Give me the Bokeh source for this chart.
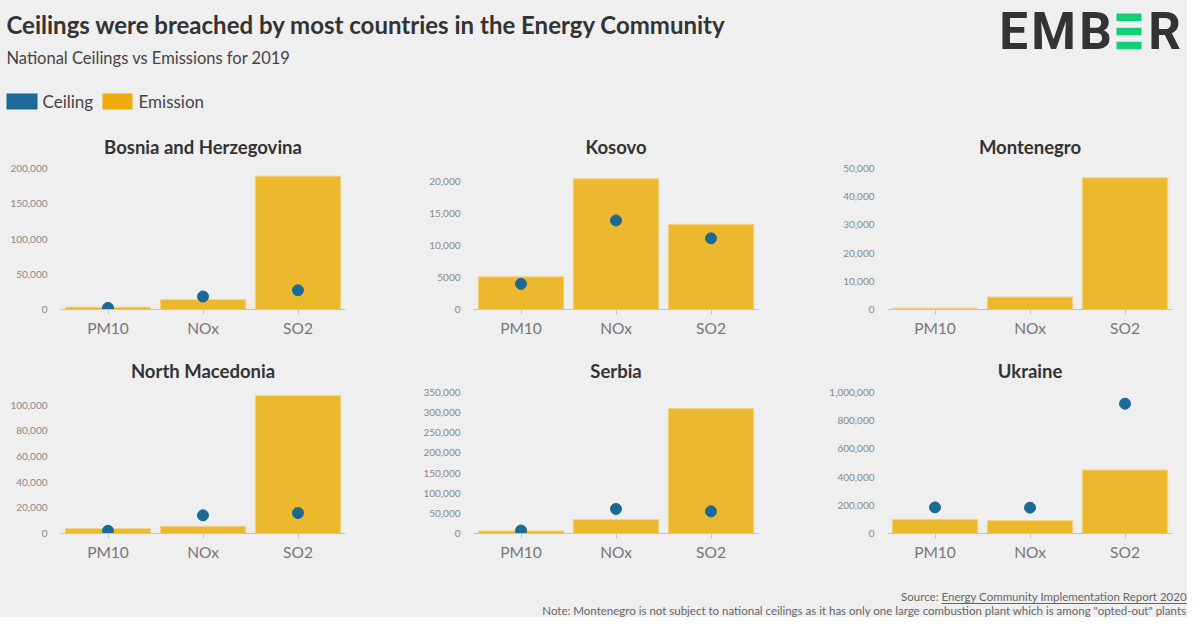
import math
from bokeh.plotting import figure
from bokeh.models import Range1d, FactorRange, FixedTicker, ColumnDataSource
from bokeh.layouts import column, row
from bokeh.embed import file_html
from bokeh.resources import INLINE
from bokeh.core.properties import value

nan = float("nan")

pollutants = ["PM10", "NOx", "SO2"]
countries = ["Bosnia and Herzegovina", "Kosovo", "Montenegro",
             "North Macedonia", "Serbia", "Ukraine"]

emission_bih = [3300, 14100, 189200]
ceiling_bih = [2300, 18400, 27300]
emission_kos = [5100, 20400, 13300]
ceiling_kos = [4000, 13900, 11100]
emission_mne = [450, 4450, 46700]
ceiling_mne = [nan, nan, nan]
emission_mkd = [3900, 5600, 107700]
ceiling_mkd = [2100, 14200, 16000]
emission_srb = [6500, 34500, 310000]
ceiling_srb = [7400, 60900, 55000]
emission_ukr = [100700, 91500, 450700]
ceiling_ukr = [185200, 183100, 920400]

emissions = [emission_bih, emission_kos, emission_mne, emission_mkd, emission_srb, emission_ukr]
ceilings = [ceiling_bih, ceiling_kos, ceiling_mne, ceiling_mkd, ceiling_srb, ceiling_ukr]

y_max = [200000, 22000, 50000, 110000, 350000, 1000000]
y_ticks = [
    [0, 50000, 100000, 150000, 200000],
    [0, 5000, 10000, 15000, 20000],
    [0, 10000, 20000, 30000, 40000, 50000],
    [0, 20000, 40000, 60000, 80000, 100000],
    [0, 50000, 100000, 150000, 200000, 250000, 300000, 350000],
    [0, 200000, 400000, 600000, 800000, 1000000],
]

title_text = "Ceilings were breached by most countries in the Energy Community"
subtitle_text = "National Ceilings vs Emissions for 2019"
legend_labels = ["Ceiling", "Emission"]
source_prefix = "Source:"
source_link = "Energy Community Implementation Report 2020"
note_text = ('Note: Montenegro is not subject to national ceilings as it has only one large '
             'combustion plant which is among "opted-out" plants')

BG = "#efefef"
BAR = "#ecb82e"
DOT = "#1d6996"
FONT = "Lato"

W = 1187
HEAD_H = 123
ROW_H = 224
FOOT_H = 46


def base(width, height, xr, yr):
    p = figure(width=width, height=height, x_range=xr, y_range=yr,
               output_backend="svg", toolbar_location=None, min_border=0)
    p.background_fill_color = BG
    p.border_fill_color = BG
    p.outline_line_color = None
    p.axis.visible = False
    p.grid.visible = False
    return p


# ---------------- header ----------------
head = base(W, HEAD_H, Range1d(0, W), Range1d(HEAD_H, 0))
head.text(x=[6], y=[24], text=[title_text], text_font=value(FONT), text_font_style="bold",
          text_font_size="24px", text_color="#333333", text_baseline="middle")
head.text(x=[6], y=[57], text=[subtitle_text], text_font=value(FONT),
          text_font_size="16.5px", text_color="#444444", text_baseline="middle")
head.rect(x=[21.5], y=[101], width=31, height=16, fill_color="#1d6996", line_color=None)
head.rect(x=[117], y=[101], width=30, height=16, fill_color="#eead0e", line_color=None)
head.text(x=[42, 138], y=[101, 101], text=legend_labels, text_font=value(FONT),
          text_font_size="17px", text_color="#444444", text_baseline="middle")
# EMBER logo
head.text(x=[1013, 1053, 1095, 1164], y=[31, 31, 31, 31], text=["E", "M", "B", "R"],
          text_font=value("Roboto"), text_font_style="bold", text_font_size="51px",
          text_color="#333333", text_baseline="middle", text_align="center")
head.rect(x=[1128.5, 1128.5, 1128.5], y=[16.7, 31, 45], width=25, height=7.5,
          fill_color="#13ce74", line_color=None)


# ---------------- panels ----------------
left_borders = [60, 73, 87]
fig_widths = [400, 400, 387]
FRAME_W = 285
FRAME_H = 141
TOP_B = 45


def panel(i):
    c = i % 3
    lb = left_borders[c]
    rb = fig_widths[c] - lb - FRAME_W
    p = figure(frame_width=FRAME_W, frame_height=FRAME_H,
               x_range=FactorRange(*pollutants, range_padding=0),
               y_range=Range1d(0, y_max[i]),
               output_backend="svg", toolbar_location=None,
               min_border_left=lb, min_border_right=rb,
               min_border_top=TOP_B, min_border_bottom=ROW_H - TOP_B - FRAME_H,
               title=countries[i])
    p.background_fill_color = BG
    p.border_fill_color = BG
    p.outline_line_color = None
    p.title.align = "center"
    p.title.text_font = FONT
    p.title.text_font_size = "18.5px"
    p.title.text_font_style = "bold"
    p.title.text_color = "#333333"
    p.title.standoff = 21

    src = ColumnDataSource(dict(cat=pollutants, emission=emissions[i], ceiling=ceilings[i]))
    p.vbar(x="cat", top="emission", width=0.9, source=src, fill_color=BAR,
           line_color="#f3d58a", line_width=1)
    p.scatter(x="cat", y="ceiling", source=src, size=11, fill_color=DOT, line_color=DOT)

    p.grid.visible = False
    ya = p.yaxis[0]
    ya.ticker = FixedTicker(ticks=y_ticks[i])
    ya.major_label_overrides = {t: (f"{t:,}" if t >= 10000 else str(t)) for t in y_ticks[i]}
    ya.axis_line_color = None
    ya.major_tick_line_color = None
    ya.minor_tick_line_color = None
    ya.major_label_standoff = 7
    ya.major_label_text_font = FONT
    ya.major_label_text_font_size = "10px"
    ya.major_label_text_color = "#888888"

    xa = p.xaxis[0]
    xa.axis_line_color = "#c4c4c4"
    xa.major_tick_line_color = "#c4c4c4"
    xa.major_tick_out = 5
    xa.major_tick_in = 0
    xa.major_label_standoff = 4
    xa.major_label_text_font = FONT
    xa.major_label_text_font_size = "15.5px"
    xa.major_label_text_color = "#777777"
    return p


panels = [panel(i) for i in range(6)]

# ---------------- footer ----------------
foot = base(W, FOOT_H, Range1d(0, W), Range1d(FOOT_H, 0))
foot.text(x=[938], y=[25], text=[source_prefix], text_font=value(FONT), text_font_size="11.5px",
          text_color="#666666", text_baseline="middle", text_align="right")
foot.text(x=[941], y=[25], text=[source_link], text_font=value(FONT), text_font_size="11.5px",
          text_color="#666666", text_baseline="middle", text_align="left")
foot.segment(x0=[941], y0=[32], x1=[1186], y1=[32], line_color="#666666", line_width=1)
foot.text(x=[1186], y=[39], text=[note_text], text_font=value(FONT), text_font_size="11.5px",
          text_color="#666666", text_baseline="middle", text_align="right")

layout = column(head, row(*panels[:3]), row(*panels[3:]), foot, spacing=0)
layout.styles = {"background-color": BG}

html = file_html(layout, INLINE)
open("out.html", "w").write(html)
